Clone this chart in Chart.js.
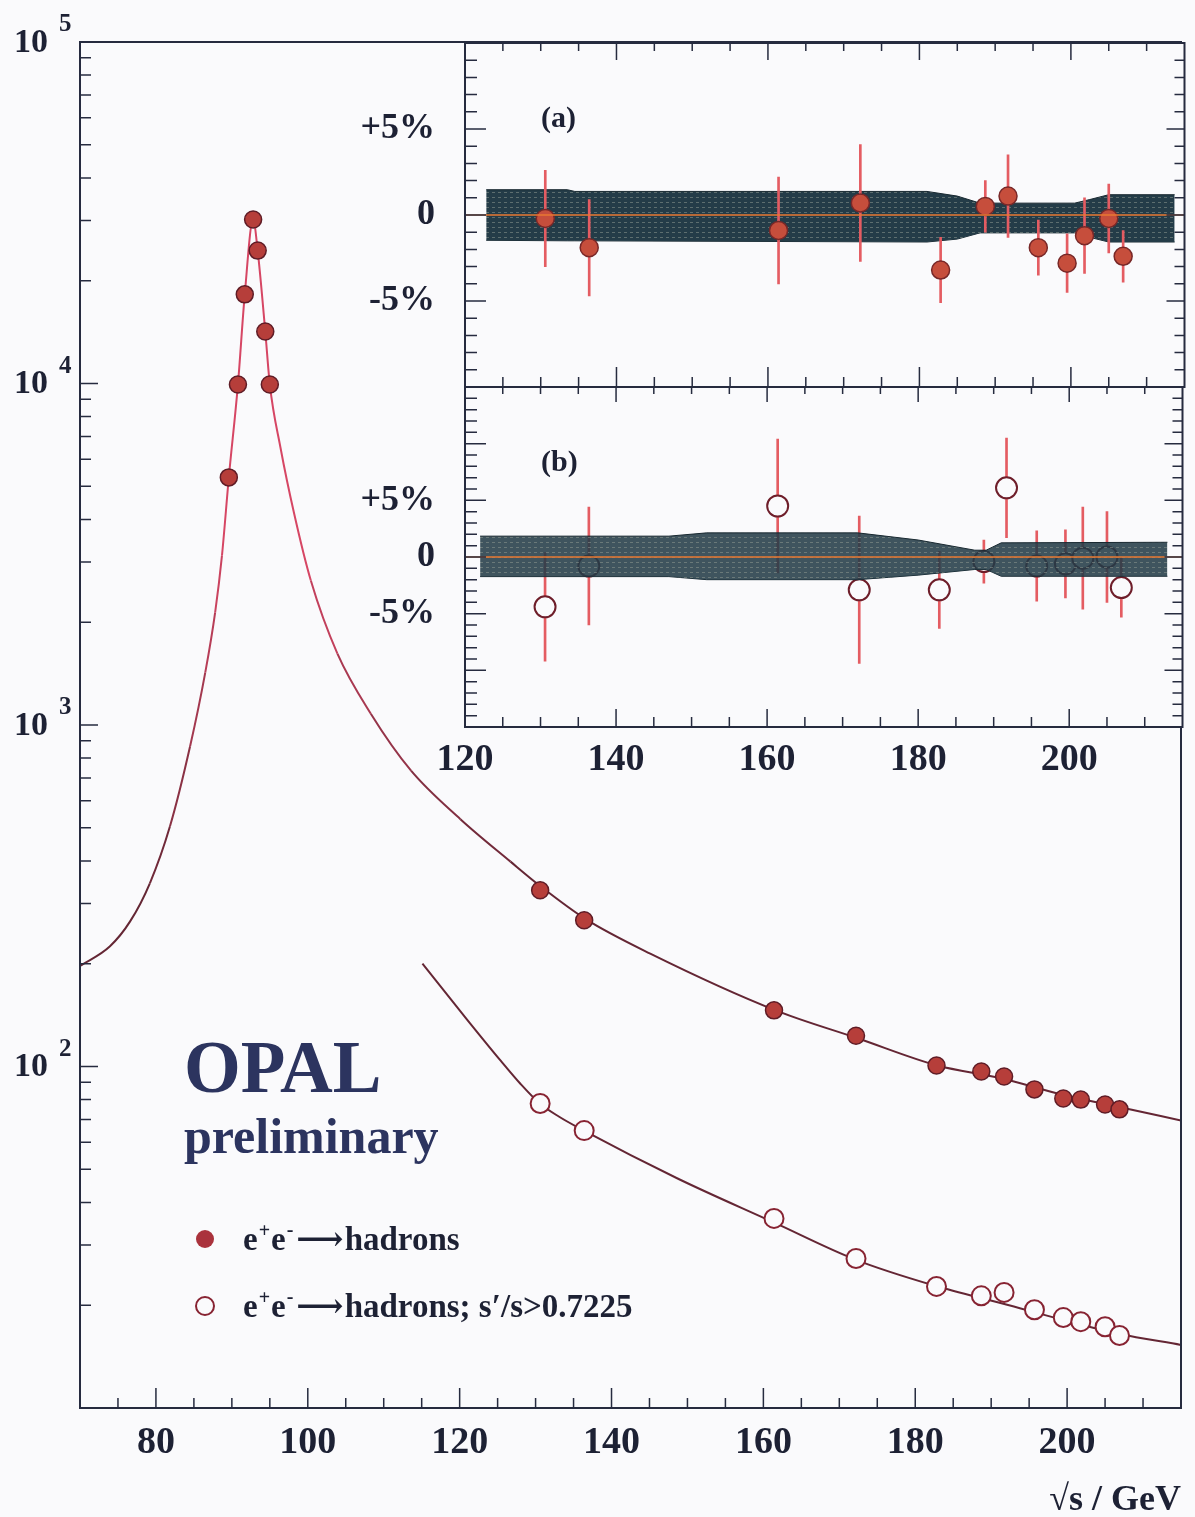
<!DOCTYPE html>
<html>
<head>
<meta charset="utf-8">
<title>OPAL hadronic cross-section</title>
<script src="https://cdn.jsdelivr.net/npm/chart.js"></script>
<style>
  html, body { margin: 0; padding: 0; background: #fafafc; }
  #wrap { position: relative; width: 1195px; height: 1517px; }
  #wrap canvas { position: absolute; left: 0; top: 0; }
</style>
</head>
<body>
<div id="wrap">
  <canvas id="mainChart" width="1195" height="1517"></canvas>
  <canvas id="insetA" width="1195" height="1517"></canvas>
  <canvas id="insetB" width="1195" height="1517"></canvas>
</div>
<script>
// Z peak scan, cross-section in pb
const peakEnergy = [89.6, 90.8, 91.7, 92.8, 93.4, 94.4, 95.0];
const peakXsec = [5310, 9930, 18240, 30200, 24500, 14200, 9930];

// LEP2 energies (GeV)
const lep2Energy = [130.6, 136.4, 161.4, 172.2, 182.8, 188.7, 191.7, 195.7, 199.5, 201.8, 205.0, 206.9];
// e+e- -> hadrons (filled) and s'/s > 0.7225 (open), pb
const xsecAll = [328, 268, 146, 123, 100.7, 96.7, 93.5, 85.7, 80.6, 80.0, 77.4, 74.9];
const xsecExcl = [77.9, 64.9, 35.9, 27.4, 22.7, 21.3, 21.8, 19.4, 18.4, 17.9, 17.3, 16.3];

// SM prediction curves
const fitAllEnergy = [70, 73.95, 76.6, 79.2, 81.85, 84.5, 86.5, 87.8, 88.7, 89.6, 90.8, 91.7, 92.8, 93.4, 94.4, 95.0, 96.4, 98.2, 100.4, 103.9, 108.3, 113.6, 120.1, 126.7, 130.8, 136.6, 145.1, 161.6, 172.4, 182.9, 191.2, 199.5, 207, 215];
const fitAllXsec = [197, 225, 266, 344, 505, 866, 1426, 2138, 3140, 5310, 9930, 18240, 30200, 24500, 14200, 9930, 6494, 4160, 2648, 1618, 1079, 735, 530, 398, 335, 270, 214, 146, 121, 100.7, 92.5, 82.5, 76, 69.5];
const fitExclEnergy = [115.1, 121.0, 125.4, 128, 130.4, 133, 136.3, 148.7, 161.3, 172.1, 182.6, 191.6, 199.5, 206.8, 215];
const fitExclXsec = [200, 137, 104, 89, 78.5, 71.5, 65, 47, 35, 27.2, 22.8, 20.2, 18.1, 16.5, 15.3];

// inset (a): relative deviation from prediction, %
const devAll = [-0.2, -1.9, -0.9, 0.7, -3.2, 0.5, 1.1, -1.9, -2.8, -1.2, -0.2, -2.4];
const errAll = [2.8, 2.8, 3.1, 3.4, 1.9, 1.5, 2.4, 1.6, 1.7, 2.2, 2.0, 1.5];
// inset (b)
const devExcl = [-4.4, -0.8, 4.5, -2.9, -2.9, -0.4, 6.1, -0.8, -0.6, -0.1, 0.0, -2.7];
const errExcl = [4.8, 5.2, 5.9, 6.5, 3.4, 1.9, 4.4, 3.1, 3.0, 4.5, 4.0, 2.6];

// theory uncertainty bands, %
const bandAEnergy = [122.8, 133.5, 134.5, 181, 185, 188, 200.5, 202.5, 205, 213.7];
const bandAUpper = [1.47, 1.47, 1.37, 1.37, 1.1, 0.69, 0.69, 0.9, 1.18, 1.18];
const bandALower = [-1.47, -1.5, -1.5, -1.57, -1.4, -1.04, -1.04, -1.3, -1.57, -1.57];
const bandBEnergy = [122, 147, 152, 172, 180, 187.5, 189, 191, 213];
const bandBUpper = [1.84, 1.84, 2.13, 2.13, 1.5, 0.6, 0.6, 1.25, 1.3];
const bandBLower = [-1.73, -1.73, -2.0, -2.0, -1.6, -1.1, -1.1, -1.7, -1.7];

// tick labels
const mainXTicks = [80, 100, 120, 140, 160, 180, 200];
const decadeExp = [2, 3, 4, 5];
const insetXTicks = [120, 140, 160, 180, 200];
const insetYTicks = [5, 0, -5];
const insetYLabels = ['+5%', '0', '-5%'];

const FONT = "'Liberation Serif', 'DejaVu Serif', 'DejaVu Sans', serif";
const INK = '#1d2134';
const FRAME = '#262b3f';
const BG = '#fafafc';
const NAVY = 'rgb(44,52,95)';
const DOT_FILL = 'rgb(182,62,58)';
const DOT_EDGE = 'rgb(95,28,38)';
const OPEN_EDGE = 'rgb(135,35,50)';
const ERR = 'rgb(228,92,98)';
const ZERO = 'rgb(232,120,50)';
const CURVE_RGB = [100, 38, 52];
const PEAK_RGB = [214, 70, 100];

function pts(xs, ys) { return xs.map((x, i) => ({ x: x, y: ys[i] })); }
function bars(xs, ys, es) { return xs.map((x, i) => ({ x: x, y: [ys[i] - es[i], ys[i] + es[i]] })); }

// curve goes from dark brown to pinkish red towards the Z peak
function curveColor(s) {
    const y = Math.max(s.p0.parsed.y, s.p1.parsed.y);
    const t = Math.min(1, Math.max(0, (Math.log10(y) - 2.6) / 1.0));
    const c = CURVE_RGB.map((v, i) => Math.round(v + (PEAK_RGB[i] - v) * t));
    return 'rgb(' + c.join(',') + ')';
}

// dark hatched fill for the uncertainty band
function bandPattern(alpha) {
    const c = document.createElement('canvas');
    c.width = 6; c.height = 5;
    const g = c.getContext('2d');
    g.fillStyle = 'rgba(36,60,72,' + alpha + ')';
    g.fillRect(0, 0, 6, 5);
    g.fillStyle = 'rgba(150,160,150,0.5)';
    g.fillRect(0, 2, 3, 1);
    return g.createPattern(c, 'repeat');
}

// text with raised pieces (e+e-)
function drawRich(c, parts, x, y) {
    parts.forEach(p => {
        c.font = p[1];
        c.fillText(p[0], x, y + (p[2] || 0));
        x += c.measureText(p[0]).width + (p[3] || 0);
    });
}

const mainDecor = {
    id: 'mainDecor',
    afterDraw(chart) {
        const a = chart.chartArea, c = chart.ctx, xs = chart.scales.x, ys = chart.scales.y;
        c.save();
        c.strokeStyle = FRAME;
        c.lineWidth = 2;
        c.strokeRect(a.left, a.top, a.right - a.left, a.bottom - a.top);

        c.lineWidth = 1.5;
        c.beginPath();
        for (let v = 75; v < 215; v += 5) {
            const px = xs.getPixelForValue(v);
            c.moveTo(px, a.bottom);
            c.lineTo(px, a.bottom - (v % 20 === 0 ? 20 : 10));
        }
        for (let e = 1; e < 5; e++) {
            for (let m = 1; m < 10; m++) {
                if (e === 1 && m === 1) continue;
                const py = ys.getPixelForValue(m * Math.pow(10, e));
                c.moveTo(a.left, py);
                c.lineTo(a.left + (m === 1 ? 18 : 11), py);
            }
        }
        c.stroke();

        // decade labels 10^n
        c.fillStyle = INK;
        c.textBaseline = 'middle';
        decadeExp.forEach(e => {
            const py = ys.getPixelForValue(Math.pow(10, e));
            c.textAlign = 'right';
            c.font = 'bold 34px ' + FONT;
            c.fillText('10', 48, py + 1);
            c.textAlign = 'left';
            c.font = 'bold 25px ' + FONT;
            c.fillText(String(e), 59, py - 17);
        });

        // experiment label
        c.textBaseline = 'alphabetic';
        c.textAlign = 'left';
        c.fillStyle = NAVY;
        c.font = 'bold 73px ' + FONT;
        c.fillText('OPAL', 184, 1092);
        c.font = 'bold 50px ' + FONT;
        c.fillText('preliminary', 184, 1153);

        // legend
        c.fillStyle = 'rgb(170,50,60)';
        c.beginPath();
        c.arc(205, 1239, 9, 0, Math.PI * 2);
        c.fill();
        c.strokeStyle = OPEN_EDGE;
        c.lineWidth = 2;
        c.beginPath();
        c.arc(205, 1306, 9, 0, Math.PI * 2);
        c.stroke();

        c.fillStyle = INK;
        const big = 'bold 33px ' + FONT, sup = 'bold 20px ' + FONT;
        const ee = [['e', big, 0, 1], ['+', sup, -13, 1], ['e', big, 0, 1], ['-', sup, -14, 3], ['\u27F6', big, 0, 1], ['hadrons', big]];
        drawRich(c, ee, 243, 1250);
        drawRich(c, ee.concat([['; s\u2032/s>0.7225', big]]), 243, 1317);
        c.restore();
    }
};

new Chart(document.getElementById('mainChart'), {
    type: 'scatter',
    data: {
        datasets: [
            {
                data: pts(peakEnergy, peakXsec),
                pointRadius: 8.5, pointBackgroundColor: DOT_FILL, pointBorderColor: DOT_EDGE, pointBorderWidth: 1.5,
                order: 1
            },
            {
                data: pts(lep2Energy, xsecAll),
                pointRadius: 8.5, pointBackgroundColor: DOT_FILL, pointBorderColor: DOT_EDGE, pointBorderWidth: 1.5,
                order: 1
            },
            {
                data: pts(lep2Energy, xsecExcl),
                pointRadius: 9.5, pointBackgroundColor: BG, pointBorderColor: OPEN_EDGE, pointBorderWidth: 2,
                order: 1
            },
            {
                type: 'line',
                data: pts(fitAllEnergy, fitAllXsec),
                borderWidth: 2, pointRadius: 0,
                cubicInterpolationMode: 'monotone',
                segment: { borderColor: curveColor },
                order: 3
            },
            {
                type: 'line',
                data: pts(fitExclEnergy, fitExclXsec),
                borderWidth: 2, pointRadius: 0,
                cubicInterpolationMode: 'monotone',
                segment: { borderColor: curveColor },
                order: 3
            }
        ]
    },
    options: {
        responsive: false,
        animation: false,
        layout: { padding: { left: 80, top: 42, right: 14, bottom: 0 } },
        plugins: { legend: { display: false }, tooltip: { enabled: false } },
        scales: {
            x: {
                type: 'linear', min: 70, max: 215,
                grid: { display: false, drawTicks: false },
                border: { display: false },
                afterBuildTicks: s => { s.ticks = mainXTicks.map(v => ({ value: v })); },
                afterFit: s => { s.height = 109; s.paddingLeft = 0; s.paddingRight = 0; },
                ticks: {
                    autoSkip: false, maxRotation: 0, padding: 12, color: INK,
                    font: { family: FONT, size: 38, weight: 'bold' }
                },
                title: {
                    display: true, text: '\u221As / GeV', align: 'end', color: INK,
                    font: { family: FONT, size: 36, weight: 'bold' },
                    padding: { top: 0, bottom: -5 }
                }
            },
            y: { type: 'logarithmic', min: 10, max: 100000, display: false }
        }
    },
    plugins: [mainDecor]
});

function insetDecor(label, lens) {
    return {
        id: 'insetDecor',
        beforeDraw(chart) {
            const a = chart.chartArea, c = chart.ctx;
            c.save();
            c.fillStyle = BG;
            c.fillRect(a.left, a.top, a.right - a.left, a.bottom - a.top);
            c.restore();
        },
        afterDraw(chart) {
            const a = chart.chartArea, c = chart.ctx, xs = chart.scales.x, ys = chart.scales.y;
            c.save();
            c.strokeStyle = FRAME;
            c.lineWidth = 2;
            c.strokeRect(a.left, a.top, a.right - a.left, a.bottom - a.top);
            c.lineWidth = 1.5;
            c.beginPath();
            for (let v = 125; v < 215; v += 5) {
                const px = xs.getPixelForValue(v), big = v % 20 === 0;
                c.moveTo(px, a.top);
                c.lineTo(px, a.top + (big ? lens[0] : lens[1]));
                c.moveTo(px, a.bottom);
                c.lineTo(px, a.bottom - (big ? lens[2] : lens[3]));
            }
            for (let v = ys.min + 1; v < ys.max; v += 1) {
                const py = ys.getPixelForValue(v), big = v % 5 === 0;
                c.moveTo(a.left, py);
                c.lineTo(a.left + (big ? 21 : 12), py);
                c.moveTo(a.right, py);
                c.lineTo(a.right - (big ? 18 : 10), py);
            }
            c.stroke();
            c.fillStyle = INK;
            c.font = 'bold 30px ' + FONT;
            c.textAlign = 'left';
            c.textBaseline = 'alphabetic';
            c.fillText(label, a.left + 76, a.top + 84);
            c.restore();
        }
    };
}

function insetYAxis(min, max) {
    return {
        type: 'linear', min: min, max: max,
        grid: { display: false, drawTicks: false },
        border: { display: false },
        afterBuildTicks: s => { s.ticks = insetYTicks.map(v => ({ value: v })); },
        afterFit: s => { s.width = 130; s.paddingTop = 0; s.paddingBottom = 0; },
        ticks: {
            callback: (v, i) => insetYLabels[i],
            padding: 30, color: INK,
            font: { family: FONT, size: 36, weight: 'bold' }
        }
    };
}

function insetData(dev, err, markerStyle, pattern, bandOrder, bx, bu, bl) {
    return [
        Object.assign({ type: 'scatter', data: pts(lep2Energy, dev), order: 2 }, markerStyle),
        {
            type: 'bar', data: bars(lep2Energy, dev, err),
            backgroundColor: ERR, barThickness: 2, grouped: false, order: 3
        },
        {
            type: 'line', data: [{ x: 120, y: 0 }, { x: 215, y: 0 }],
            borderColor: ZERO, borderWidth: 1.5, pointRadius: 0, order: 0
        },
        {
            type: 'line', data: pts(bx, bu), fill: '+1', backgroundColor: pattern,
            borderColor: 'rgb(24,40,48)', borderWidth: 1, pointRadius: 0, order: bandOrder
        },
        {
            type: 'line', data: pts(bx, bl), fill: false,
            borderColor: 'rgb(24,40,48)', borderWidth: 1, pointRadius: 0, order: bandOrder
        }
    ];
}

// inset (a)
new Chart(document.getElementById('insetA'), {
    type: 'scatter',
    data: {
        datasets: insetData(devAll, errAll, {
            pointRadius: 9, pointBackgroundColor: 'rgb(198,78,60)', pointBorderColor: 'rgb(120,40,40)', pointBorderWidth: 1.5
        }, bandPattern(1), 5, bandAEnergy, bandAUpper, bandALower)
    },
    options: {
        responsive: false,
        animation: false,
        layout: { padding: { left: 335, top: 43, right: 7, bottom: 1130 } },
        plugins: { legend: { display: false }, tooltip: { enabled: false } },
        scales: {
            x: { type: 'linear', min: 120, max: 215, offset: false, display: false },
            y: insetYAxis(-10, 10)
        }
    },
    plugins: [insetDecor('(a)', [17, 8, 20, 10])]
});

// inset (b)
new Chart(document.getElementById('insetB'), {
    type: 'scatter',
    data: {
        datasets: insetData(devExcl, errExcl, {
            pointRadius: 10.5, pointBackgroundColor: BG, pointBorderColor: 'rgb(110,30,42)', pointBorderWidth: 2
        }, bandPattern(0.88), 1, bandBEnergy, bandBUpper, bandBLower)
    },
    options: {
        responsive: false,
        animation: false,
        layout: { padding: { left: 335, top: 387, right: 7, bottom: 730 } },
        plugins: { legend: { display: false }, tooltip: { enabled: false } },
        scales: {
            x: {
                type: 'linear', min: 120, max: 215, offset: false,
                grid: { display: false, drawTicks: false },
                border: { display: false },
                afterBuildTicks: s => { s.ticks = insetXTicks.map(v => ({ value: v })); },
                afterFit: s => { s.height = 60; s.paddingLeft = 0; s.paddingRight = 0; },
                ticks: {
                    autoSkip: false, maxRotation: 0, padding: 10, color: INK,
                    font: { family: FONT, size: 38, weight: 'bold' }
                }
            },
            y: insetYAxis(-15, 15)
        }
    },
    plugins: [insetDecor('(b)', [15, 7, 18, 10])]
});
</script>
</body>
</html>
